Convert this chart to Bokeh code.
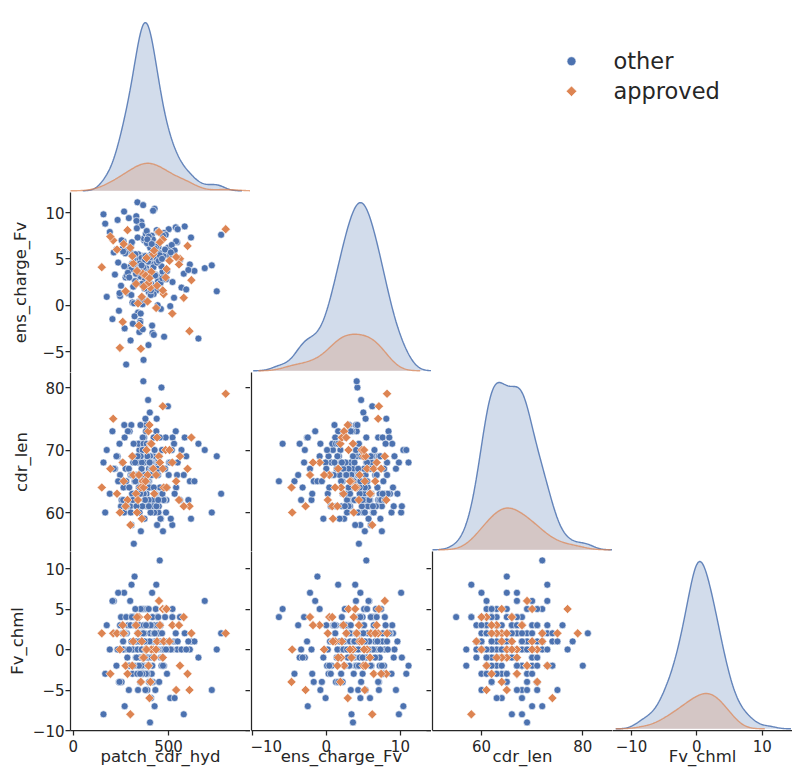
import numpy as np
from bokeh.plotting import figure
from bokeh.core.properties import value
from bokeh.models import (Range1d, LinearAxis, FixedTicker, CustomJSTickFormatter,
                          Span, Row, Column, Spacer)
from bokeh.embed import file_html
from bokeh.resources import INLINE

# ---------------- data ----------------
variables = ["patch_cdr_hyd", "ens_charge_Fv", "cdr_len", "Fv_chml"]
groups = ["other", "approved"]

other_patch_cdr_hyd = [
    362, 415, 288, 501, 347, 433, 219, 398, 372, 560, 311, 455, 390, 267, 426, 340, 612, 385, 476, 305,
    358, 442, 233, 395, 520, 327, 408, 176, 371, 469, 299, 384, 538, 352, 421, 264, 489, 337, 402, 580,
    319, 447, 378, 251, 412, 365, 503, 290, 436, 343, 727, 392, 460, 275, 355, 418, 521, 331, 383, 246,
    404, 356, 477, 213, 388, 438, 309, 366, 545, 281, 427, 349, 397, 618, 322, 451, 376, 259, 492, 369,
    341, 409, 192, 463, 380, 302, 431, 357, 568, 284, 414, 336, 485, 394, 227, 445, 361, 509, 318, 399,
    373, 254, 422, 348, 657, 387, 296, 458, 334, 403, 529, 273, 367, 440, 315, 391, 206, 474, 353, 425,
    346, 593, 381, 262, 416, 329, 497, 370, 292, 449, 364, 540, 306, 411, 240, 386, 468, 339, 753, 396,
    358, 430, 278, 517, 350, 407, 168, 375, 454, 313, 389, 636, 345, 482, 268, 419, 360, 532, 301, 393,
    437, 325, 377, 585, 243, 406, 354, 471, 287, 428, 363, 690, 332, 401, 512, 270, 382, 446, 317, 374,
    412, 294, 466, 351, 548, 236, 397, 338, 443, 379, 604, 308, 423, 368, 159, 487, 326, 408, 776, 359,
]
other_ens_charge_Fv = [
    4.2, 6.1, 1.3, 8.2, -2.9, 5.1, 3.3, 2.2, 7.0, 4.9, 0.3, 5.6, 3.8, 10.1, 6.5, -0.8, 4.4, 2.7, 7.8, 1.1,
    5.3, 3.1, 9.2, -4.3, 6.0, 2.4, 4.6, 0.9, 7.2, 3.6, 5.8, 1.8, 8.4, -1.7, 4.1, 6.9, 2.9, 11.1, 5.0, 3.4,
    0.2, 6.3, 4.8, 2.1, 7.5, -2.6, 5.4, 3.9, 1.6, 8.9, 4.3, 6.6, -0.4, 3.0, 5.2, 7.1, 2.5, 9.6, 4.0, 1.0,
    6.2, 3.5, -3.4, 5.7, 2.0, 8.1, 4.5, 0.7, 6.8, 3.2, 10.4, 5.1, 1.4, 7.3, -1.2, 4.7, 2.8, 6.1, 3.7, -5.9,
    5.5, 2.3, 7.9, 4.2, 0.5, 6.4, 3.3, 9.0, 1.9, 5.9, -2.2, 4.9, 7.6, 3.0, 6.0, 2.6, 8.6, -0.1, 4.4, 5.2,
    3.8, 7.0, 1.2, 5.0, -3.6, 6.7, 4.1, 2.4, 8.3, 3.6, 0.8, 5.6, 10.8, 4.6, 2.0, 7.2, -1.5, 5.3, 3.1, 6.4,
    4.0, 1.7, 7.7, 5.8, -3.0, 3.4, 6.2, 2.2, 9.4, 4.8, 0.1, 6.9, 3.9, 5.5, -0.6, 8.0, 2.9, 4.3, 1.5, 7.4,
    5.1, 3.2, -6.4, 6.5, 4.5, 1.1, 8.8, 2.7, 5.4, -2.0, 7.1, 3.7, 0.4, 6.0, 4.2, 10.2, 2.3, 5.9, -3.8, 4.7,
    6.3, 2.6, 4.9, 8.5, 1.3, 5.2, -0.9, 7.5, 3.5, 6.1, 0.6, 4.0, 9.1, 2.1, 5.7, -2.5, 3.3, 7.9, 4.4, 1.8,
    6.6, 3.0, 5.0, -1.9, 8.2, 4.6, 2.5, 7.3, 0.0, 5.3, 3.8, 6.8, -3.2, 4.1, 9.8, 2.8, 5.5, 1.6, 7.6, 4.3,
]
other_cdr_len = [
    64, 68, 61, 66, 70, 63, 67, 65, 72, 62, 69, 64, 66, 60, 68, 71, 65, 63, 67, 74,
    66, 62, 69, 65, 58, 68, 64, 70, 63, 67, 61, 66, 73, 65, 69, 64, 62, 68, 76, 66,
    63, 60, 70, 61, 61, 72, 68, 62, 73, 71, 60, 69, 59, 67, 57, 62, 72, 63, 74, 66,
    69, 64, 62, 67, 65, 75, 63, 68, 66, 61, 70, 64, 67, 59, 65, 69, 62, 68, 64, 71,
    65, 67, 63, 80, 66, 60, 68, 64, 70, 62, 67, 65, 72, 61, 69, 66, 63, 68, 55, 64,
    68, 62, 72, 60, 71, 61, 73, 59, 63, 69, 71, 61, 70, 58, 68, 62, 73, 62, 74, 60,
    64, 69, 65, 62, 68, 66, 77, 63, 67, 61, 70, 64, 58, 68, 65, 71, 63, 66, 69, 62,
    67, 63, 65, 70, 64, 68, 60, 66, 72, 62, 69, 65, 64, 67, 74, 61, 68, 63, 66, 78,
    61, 68, 62, 72, 71, 60, 69, 57, 73, 63, 61, 70, 61, 68, 59, 72, 73, 62, 71, 59,
    66, 64, 70, 63, 68, 65, 61, 69, 67, 75, 62, 66, 64, 81, 68, 60, 65, 71, 63, 67,
]
other_Fv_chml = [
    1, -2, 3, 0, -1, 5, 2, -4, 0, 4, -3, 1, -1, 7, 2, -5, 0, 3, -2, 1,
    -1, 2, 0, -3, 4, 1, -6, 3, -2, 0, 6, -1, 2, -4, 1, 0, 5, -2, 3, -8,
    0, 2, -1, 4, -3, 1, 0, -2, 8, 3, -5, 1, -1, 2, 0, -4, 5, 1, -2, 3,
    2, -1, 0, 6, -3, 1, 4, -2, 0, 2, -7, 3, -1, 1, 9, -4, 0, 2, -3, 5,
    -1, 3, 0, -2, 1, 4, -5, 2, 0, -1, 7, -3, 1, 3, -2, 0, 2, -6, 4, 1,
    0, -4, 2, 1, -1, 5, -2, 3, 0, -9, 1, 2, -3, 4, 0, -1, 6, 1, -2, 3,
    2, 0, -3, 1, 4, -1, 0, 3, -5, 2, -2, 1, 8, 0, -4, 3, -1, 2, 0, 5,
    -2, 1, 4, 0, -1, 3, -3, 2, 11, 0, -5, 1, -2, 4, 2, -1, 0, -6, 3, 1,
    0, 3, -1, 2, -4, 1, 5, -2, 0, 2, -3, 6, -1, 1, 0, -7, 3, 4, -2, 1,
    -1, 0, 2, -3, 1, 7, -2, 0, 3, -5, 1, 4, -1, 2, -8, 0, 5, -4, 2, 0,
]

approved_patch_cdr_hyd = [150, 405, 330, 470, 245, 560, 390, 300, 440, 610,
                          210, 365, 520, 285, 800, 420, 355, 485, 230, 395,
                          580, 315, 450, 370, 260, 540, 410, 340, 600, 475,
                          380, 455, 275, 505, 345, 425, 620, 195, 360, 490,
                          310, 435, 555, 400, 265, 470, 335, 385]
approved_ens_charge_Fv = [4.1, 1.9, 2.3, 7.1, -4.6, 5.0, 0.4, 6.2, 2.1, -2.8,
                          7.0, 3.4, -0.9, 8.1, 8.2, 5.5, -4.7, 3.0, 6.0, 2.4,
                          0.8, 4.5, 7.9, 2.0, -1.8, 5.2, 3.6, 0.2, 6.4, 1.2,
                          3.2, 6.8, 1.5, 4.8, -2.2, 5.9, 2.7, 7.4, 0.9, 3.9,
                          5.3, -0.3, 4.4, 2.9, 6.6, 1.6, 3.7, 5.1]
approved_cdr_len = [64, 71, 63, 77, 60, 69, 66, 58, 72, 61,
                    75, 65, 68, 62, 79, 67, 64, 70, 63, 73,
                    61, 66, 69, 64, 68, 65, 71, 62, 67, 64,
                    65, 68, 61, 70, 66, 63, 72, 67, 59, 64,
                    69, 66, 62, 74, 65, 67, 60, 70]
approved_Fv_chml = [2, -4, 3, 5, 0, -2, 4, -8, 1, -5,
                    2, -1, 3, -3, 2, 0, -4, 5, 2, -2,
                    4, 1, 6, -1, 3, -5, 0, 2, -3, 1,
                    0, 3, -2, 1, 4, -1, 2, -3, 1, 5,
                    -2, 0, 3, -6, 2, -1, 4, 0]

# tick labels
x_ticks = {"patch_cdr_hyd": [0, 500], "ens_charge_Fv": [-10, 0, 10],
           "cdr_len": [60, 80], "Fv_chml": [-10, 0, 10]}
y_ticks = {"ens_charge_Fv": [-5, 0, 5, 10], "cdr_len": [60, 70, 80],
           "Fv_chml": [-10, -5, 0, 5, 10]}

# axis limits
x_lims = {"patch_cdr_hyd": (-14, 930), "ens_charge_Fv": (-10.1, 14.2),
          "cdr_len": (50.33, 85.87), "Fv_chml": (-12.9, 14.64)}
y_lims = {"ens_charge_Fv": (-7.26, 12.16), "cdr_len": (53.76, 82.4),
          "Fv_chml": (-10.0, 12.1)}

data = {
    "other": {"patch_cdr_hyd": other_patch_cdr_hyd, "ens_charge_Fv": other_ens_charge_Fv,
              "cdr_len": other_cdr_len, "Fv_chml": other_Fv_chml},
    "approved": {"patch_cdr_hyd": approved_patch_cdr_hyd, "ens_charge_Fv": approved_ens_charge_Fv,
                 "cdr_len": approved_cdr_len, "Fv_chml": approved_Fv_chml},
}
n_total = len(other_cdr_len) + len(approved_cdr_len)

# ---------------- style / layout ----------------
FONT = "DejaVu Sans"
INK = "#262626"
COLORS = {"other": "#4C72B0", "approved": "#DD8452"}
FRAME_W = 180
FRAME_H = [180, 180, 179, 179]
BORDER_L = [70, 1, 1, 0]
BORDER_T = [12, 0, 0, 0]
BORDER_B = [0, 0, 0, 50]
YLABEL_STANDOFF = {1: 9, 2: 11, 3: 3}
# legend key layout inside the legend panel (panel pixels, y downwards)
LEGEND_PANEL = (361, 192)
LEGEND_KEY_X, LEGEND_TEXT_X = 140, 182
LEGEND_ROW_Y = {"other": 52, "approved": 84}

MINUS_FMT = "return tick < 0 ? '\\u2212' + String(-tick) : String(tick);"


def kde_curve(vals, gridsize=200, cut=3):
    a = np.asarray(vals, dtype=float)
    bw = a.std(ddof=1) * len(a) ** (-0.2)
    xs = np.linspace(a.min() - cut * bw, a.max() + cut * bw, gridsize)
    d = np.exp(-0.5 * ((xs[:, None] - a[None, :]) / bw) ** 2).sum(axis=1)
    d = d / (len(a) * bw * np.sqrt(2 * np.pi))
    return xs, d * len(a) / n_total


def style_axis(ax, ticks, labels=True, label=None):
    ax.ticker = FixedTicker(ticks=ticks, minor_ticks=[])
    ax.axis_line_color = INK
    ax.axis_line_width = 1.25
    ax.major_tick_line_color = INK
    ax.major_tick_line_width = 1.25
    ax.minor_tick_line_color = None
    ax.major_tick_out = 5
    ax.major_tick_in = 0
    ax.major_label_text_font = FONT
    ax.major_label_text_color = INK
    if labels:
        ax.formatter = CustomJSTickFormatter(code=MINUS_FMT)
        ax.major_label_text_font_size = "15px"
        ax.major_label_standoff = 1
    else:
        ax.formatter = CustomJSTickFormatter(code="return '';")
        ax.major_label_text_font_size = "0px"
        ax.major_label_standoff = 0
    if label is not None:
        ax.axis_label = label
        ax.axis_label_text_font = FONT
        ax.axis_label_text_font_size = "16.5px"
        ax.axis_label_text_font_style = "normal"
        ax.axis_label_text_color = INK


def new_fig(r, c, y_range):
    return figure(frame_width=FRAME_W, frame_height=FRAME_H[r],
                  x_range=Range1d(*x_lims[variables[c]]), y_range=y_range,
                  x_axis_type=None, y_axis_type=None,
                  min_border_left=BORDER_L[c], min_border_right=0,
                  min_border_top=BORDER_T[r], min_border_bottom=BORDER_B[r],
                  outline_line_color=None, toolbar_location=None,
                  output_backend="svg", background_fill_color="white",
                  border_fill_color="white")


rows = []
for r in range(4):
    row_figs = []
    for c in range(r + 1):
        vx = variables[c]
        vy = variables[r]
        if r == c:
            curves = {g: kde_curve(data[g][vx]) for g in groups}
            dmax = max(curves[g][1].max() for g in groups)
            p = new_fig(r, c, Range1d(-0.01 * dmax, 1.06 * dmax))
            for g in groups:
                xs, d = curves[g]
                p.varea(x=xs, y1=np.zeros_like(d), y2=d, fill_color=COLORS[g], fill_alpha=0.25)
                p.line(x=xs, y=d, line_color=COLORS[g], line_width=1.4,
                       line_alpha=0.85 if g == "other" else 0.7)
        else:
            p = new_fig(r, c, Range1d(*y_lims[vy]))
            p.scatter(x=data["other"][vx], y=data["other"][vy], marker="circle", size=7,
                      fill_color=COLORS["other"], line_color="white", line_width=0.6)
            p.scatter(x=data["approved"][vx], y=data["approved"][vy], marker="square",
                      angle=np.pi / 4, size=6.5, fill_color=COLORS["approved"],
                      line_color="white", line_width=0.6)
            if c == 0:
                ax = LinearAxis()
                style_axis(ax, y_ticks[vy], labels=True, label=vy)
                ax.axis_label_standoff = YLABEL_STANDOFF[r]
                p.add_layout(ax, "left")
            else:
                ax = LinearAxis()
                style_axis(ax, [], labels=False)
                ax.major_tick_out = 0
                p.add_layout(ax, "left")
            if r > c + 1:
                ax = LinearAxis()
                style_axis(ax, y_ticks[vy], labels=False)
                ax.axis_line_color = None
                ax.major_tick_out = 0
                ax.major_tick_in = 5
                p.add_layout(ax, "right")
        if r == 3:
            ax = LinearAxis()
            style_axis(ax, x_ticks[vx], labels=True, label=vx)
            ax.major_label_standoff = 4
            ax.axis_label_standoff = -8
            p.add_layout(ax, "below")
        else:
            p.add_layout(Span(location=p.y_range.start, dimension="width",
                              line_color="#e4e4e4", line_width=1))
        row_figs.append(p)
    rows.append(row_figs)

# legend panel (top right), drawn as keys + labels in the panel's own pixel space
lf = figure(width=LEGEND_PANEL[0], height=LEGEND_PANEL[1],
            x_range=Range1d(0, LEGEND_PANEL[0]), y_range=Range1d(LEGEND_PANEL[1], 0),
            x_axis_type=None, y_axis_type=None, min_border_left=0, min_border_right=0,
            min_border_top=0, min_border_bottom=0, outline_line_color=None,
            toolbar_location=None, output_backend="svg")
lf.scatter(x=[LEGEND_KEY_X], y=[LEGEND_ROW_Y["other"]], marker="circle", size=9,
           fill_color=COLORS["other"], line_color="white", line_width=0.6)
lf.scatter(x=[LEGEND_KEY_X], y=[LEGEND_ROW_Y["approved"]], marker="square", angle=np.pi / 4,
           size=7.5, fill_color=COLORS["approved"], line_color="white", line_width=0.6)
lf.text(x=[LEGEND_TEXT_X] * len(groups), y=[LEGEND_ROW_Y[g] for g in groups], text=groups,
        text_font=value(FONT), text_font_size="22.5px", text_color=INK,
        text_baseline="middle", text_align="left")

top_row = Row(children=[rows[0][0], Spacer(width=181, height=192), lf], spacing=0)
layout = Column(children=[top_row] + [Row(children=rf, spacing=0) for rf in rows[1:]],
                spacing=0)

open("out.html", "w").write(file_html(layout, INLINE, title="pairplot"))
